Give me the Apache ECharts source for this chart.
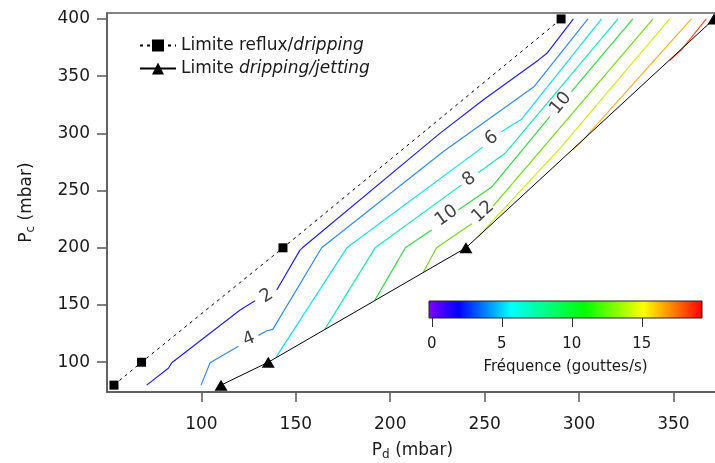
<!DOCTYPE html>
<html>
<head>
<meta charset="utf-8">
<script src="https://cdn.jsdelivr.net/npm/echarts@6/dist/echarts.min.js"></script>
<style>
html,body{margin:0;padding:0;background:#fff;overflow:hidden;}
#chart{width:715px;height:463px;}
</style>
</head>
<body>
<div id="chart"></div>
<script>
// ---- Data ----
const xTicks = [100, 150, 200, 250, 300, 350];
const yTicks = [100, 150, 200, 250, 300, 350, 400];
const colorbarTicks = [0, 5, 10, 15];

const refluxPd = [53.7, 68.3, 143.2, 290.5];
const refluxPc = [80, 100, 200, 400];
const jettingPd = [110.4, 135.4, 240.1, 371.5];
const jettingPc = [80, 100, 200, 400];

const contourLevels = [2, 4, 6, 8, 10, 12, 14, 16, 18];
const level2 = [
  [[71, 80], [82.5, 94.7], [84.3, 99.6], [120.5, 145.6], [128.4, 153.8]],
  [[139.9, 163.1], [152.2, 198], [153.5, 200], [226.3, 300], [249.2, 329.2], [278.4, 364], [283, 370], [297, 400]]
];
const level4 = [
  [[99.8, 80], [104.6, 99.5], [119.6, 114]],
  [[130.2, 123.5], [134.6, 127.5], [137.8, 128.7], [163.7, 200], [228, 284], [276.3, 341], [304.7, 400]]
];
const level6 = [
  [[139.5, 104.3], [177, 200], [249, 288]],
  [[258.9, 301.5], [269.5, 312.3], [311.9, 400]]
];
const level8 = [
  [[165.4, 128.9], [192, 200], [237.8, 255]],
  [[246.6, 265.6], [260.8, 282.6], [320.6, 400]]
];
const level10 = [
  [[191.9, 154.3], [208, 200], [221.9, 215.6]],
  [[236, 233], [253.6, 252.9], [284.5, 314.6]],
  [[296, 336.4], [328.5, 400]]
];
const level12 = [
  [[217.5, 178.4], [224.5, 200], [243.2, 221]],
  [[254.5, 236.5], [339.2, 400]]
];
const level14 = [
  [[247, 210.6], [290.7, 288.4], [348, 400]]
];
const level16 = [
  [[296.6, 285.5], [301.2, 292.6], [359.5, 400]]
];
const level18 = [
  [[348, 363.6], [354.2, 373], [367.4, 400]]
];
const contourData = [level2, level4, level6, level8, level10, level12, level14, level16, level18];

const labelTexts = ['2', '4', '6', '8', '10', '12', '10'];
const labelPd = [134.6, 125.2, 253.7, 241.8, 229.8, 249.2, 290.3];
const labelPc = [157.9, 120, 295.7, 259.9, 228, 231.5, 326.3];

// ---- Styles ----
const FONT = 'DejaVu Sans';
const levelColors = ['#1f1fff', '#2f8cff', '#10e0ff', '#10f0b0', '#30e040', '#70e010', '#d0f010', '#ffb020', '#ff5020'];
const labelRotate = [33, 22, 36, 37, 35, 42, 50];
const axisColor = '#5a5a5a';
const textColor = '#1a1a1a';

const series = [];
contourData.forEach((segs, li) => {
  segs.forEach(seg => {
    series.push({
      type: 'line', xAxisIndex: 0, yAxisIndex: 0,
      data: seg, symbol: 'none', silent: true,
      lineStyle: { color: levelColors[li], width: 1.2 },
      z: 2
    });
  });
});

series.push({
  name: 'Limite reflux/dripping', type: 'line', xAxisIndex: 0, yAxisIndex: 0,
  data: refluxPd.map((x, i) => [x, refluxPc[i]]),
  symbol: 'rect', symbolSize: 9, clip: false,
  lineStyle: { color: '#000', width: 1, type: [3, 4] },
  itemStyle: { color: '#000' }, z: 3
});
series.push({
  name: 'Limite dripping/jetting', type: 'line', xAxisIndex: 0, yAxisIndex: 0,
  data: jettingPd.map((x, i) => [x, jettingPc[i]]),
  symbol: 'triangle', symbolSize: [13, 11], clip: false,
  lineStyle: { color: '#000', width: 1 },
  itemStyle: { color: '#000' }, z: 3
});

series.push({
  type: 'scatter', xAxisIndex: 0, yAxisIndex: 0, symbolSize: 0, silent: true,
  data: labelTexts.map((t, i) => ({ name: t, value: [labelPd[i], labelPc[i]], label: { rotate: labelRotate[i] } })),
  label: { show: true, position: 'inside', formatter: p => p.name, fontSize: 18, fontFamily: FONT, color: '#111' },
  z: 4
});

// dummy series for colorbar grid
series.push({ type: 'scatter', xAxisIndex: 1, yAxisIndex: 1, data: [], silent: true });

const sub = { fontSize: 12, fontFamily: FONT, color: textColor, lineHeight: 14, padding: [9, 0, 0, 0] };

const option = {
  animation: false,
  backgroundColor: '#fff',
  textStyle: { fontFamily: FONT },
  grid: [
    { left: 107, top: 13, right: -3, bottom: 71, outerBoundsMode: 'none', containLabel: false,
      show: true, borderColor: axisColor, borderWidth: 1.5, backgroundColor: 'transparent' },
    { left: 429, top: 301, width: 273, height: 17, outerBoundsMode: 'none', containLabel: false,
      show: true, borderColor: '#222', borderWidth: 1,
      backgroundColor: { type: 'linear', x: 0, y: 0, x2: 1, y2: 0, colorStops: [
        { offset: 0, color: '#8000ff' },
        { offset: 0.11, color: '#0000ff' },
        { offset: 0.30, color: '#00ffff' },
        { offset: 0.57, color: '#00ff00' },
        { offset: 0.785, color: '#ffff00' },
        { offset: 1, color: '#ff0000' }
      ] } }
  ],
  xAxis: [
    {
      type: 'value', gridIndex: 0, min: 50, max: 373.6,
      axisLine: { show: true, lineStyle: { color: axisColor, width: 1.5 } },
      axisTick: { show: true, length: 10, customValues: xTicks, lineStyle: { color: axisColor, width: 1.5 } },
      axisLabel: { customValues: xTicks, margin: 24, fontSize: 17, fontFamily: FONT, color: textColor },
      splitLine: { show: false },
      name: 'P{sub|d} (mbar)', nameLocation: 'middle', nameGap: 50,
      nameTextStyle: { fontSize: 17, fontFamily: FONT, color: textColor, rich: { sub: sub } }
    },
    {
      type: 'value', gridIndex: 1, min: -0.2, max: 19.3,
      axisLine: { show: false },
      axisTick: { show: true, length: 9, customValues: colorbarTicks, lineStyle: { color: '#333', width: 1 } },
      axisLabel: { customValues: colorbarTicks, margin: 19, fontSize: 15, fontFamily: FONT, color: textColor },
      splitLine: { show: false },
      name: 'Fréquence (gouttes/s)', nameLocation: 'middle', nameGap: 42,
      nameTextStyle: { fontSize: 15, fontFamily: FONT, color: textColor }
    }
  ],
  yAxis: [
    {
      type: 'value', gridIndex: 0, min: 74, max: 405.2,
      axisLine: { show: true, lineStyle: { color: axisColor, width: 1.5 } },
      axisTick: { show: true, length: 10, customValues: yTicks, lineStyle: { color: axisColor, width: 1.5 } },
      axisLabel: { customValues: yTicks, margin: 17, fontSize: 17, fontFamily: FONT, color: textColor },
      splitLine: { show: false },
      name: 'P{sub|c} (mbar)', nameLocation: 'middle', nameGap: 72, nameRotate: 90,
      nameTextStyle: { fontSize: 17, fontFamily: FONT, color: textColor, rich: { sub: sub } }
    },
    { type: 'value', gridIndex: 1, min: 0, max: 1, show: false }
  ],
  legend: {
    data: ['Limite reflux/dripping', 'Limite dripping/jetting'],
    orient: 'vertical', left: 139, top: 37, padding: 0, itemWidth: 36, itemHeight: 15, itemGap: 6,
    formatter: name => name === 'Limite reflux/dripping' ? 'Limite reflux/{i|dripping}' : 'Limite {i|dripping/jetting}',
    textStyle: { fontSize: 17, fontFamily: FONT, color: textColor, rich: { i: { fontStyle: 'italic', fontSize: 17, fontFamily: FONT, color: textColor } } }
  },
  series: series
};

const chart = echarts.init(document.getElementById('chart'), null, { renderer: 'canvas' });
chart.setOption(option);
</script>
</body>
</html>
